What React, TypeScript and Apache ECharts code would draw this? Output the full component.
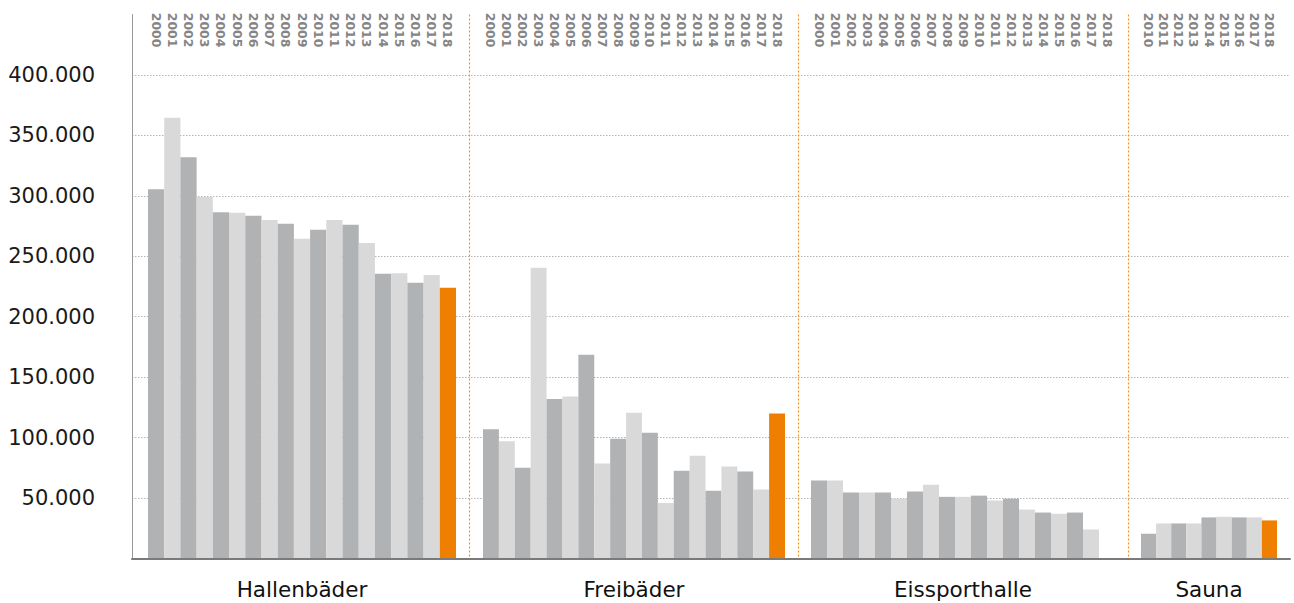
import React, { useEffect, useRef } from "react";
import * as echarts from "echarts";

// ---- data ----
const yearsFull = ["2000","2001","2002","2003","2004","2005","2006","2007","2008","2009","2010","2011","2012","2013","2014","2015","2016","2017","2018"];
const yearsSauna = ["2010","2011","2012","2013","2014","2015","2016","2017","2018"];
const groupNames = ["Hallenbäder", "Freibäder", "Eissporthalle", "Sauna"];

const hallenbaeder = [305500, 364500, 332000, 299000, 286500, 286000, 283500, 280000, 277000, 264500, 272000, 280000, 276000, 261000, 235500, 236000, 228000, 234500, 224000];
const freibaeder = [107000, 97000, 75000, 240500, 132000, 134000, 168500, 78500, 99000, 120500, 104000, 46000, 72500, 85000, 56000, 76000, 72000, 57000, 120000];
const eissporthalle = [64500, 64500, 54500, 54500, 54500, 49500, 55500, 61000, 51000, 51000, 52000, 48000, 49500, 40500, 38000, 37000, 38000, 24000, null];
const sauna = [20500, 29000, 29000, 29000, 34000, 34500, 34000, 34000, 31500];

const yMax = 450000;
const yInterval = 50000;

// ---- layout / style ----
const TOP = 14.5;
const BOTTOM = 44.5;
const groupLayout = [
  { left: 148, width: 308 },
  { left: 483, width: 302 },
  { left: 811, width: 304 },
  { left: 1141, width: 136 },
];
const dividerX = [469.5, 798.5, 1128.5];

const DARK = "#b1b2b3";
const LIGHT = "#d9d9d9";
const ORANGE = "#ef7f00";
const FONT = "DejaVu Sans";

const fmt = (v: number) => String(v).replace(/\B(?=(\d{3})+(?!\d))/g, ".");

export default function App() {
  const ref = useRef<HTMLDivElement>(null);

  useEffect(() => {
    if (!ref.current) return;
    const chart = echarts.init(ref.current, null, { renderer: "svg" });

    const groups = [
      { years: yearsFull, values: hallenbaeder },
      { years: yearsFull, values: freibaeder },
      { years: yearsFull, values: eissporthalle },
      { years: yearsSauna, values: sauna },
    ];

    const grids: any[] = [{ left: 132, right: 4, top: TOP, bottom: BOTTOM }];
    const xAxes: any[] = [
      {
        type: "value",
        gridIndex: 0,
        min: 0,
        max: 1,
        position: "bottom",
        z: 5,
        axisLine: { show: true, onZero: false, lineStyle: { color: "#7a7a7a", width: 2 } },
        axisTick: { show: false },
        axisLabel: { show: false },
        splitLine: { show: false },
      },
    ];
    const yAxes: any[] = [
      {
        type: "value",
        gridIndex: 0,
        min: 0,
        max: yMax,
        interval: yInterval,
        axisLine: { show: true, onZero: false, lineStyle: { color: "#999999", width: 1 } },
        axisTick: { show: false },
        axisLabel: {
          showMinLabel: false,
          showMaxLabel: false,
          margin: 37,
          fontFamily: FONT,
          fontSize: 21,
          color: "#1a1a1a",
          formatter: (v: number) => fmt(v),
        },
        splitLine: {
          show: true,
          showMinLine: false,
          showMaxLine: false,
          lineStyle: { color: "#b5b5b5", type: [1.5, 1.5], width: 1 },
        },
      },
    ];
    const series: any[] = [];

    groups.forEach((g, i) => {
      const gi = i + 1;
      grids.push({ left: groupLayout[i].left, width: groupLayout[i].width, top: TOP, bottom: BOTTOM });
      const topIdx = xAxes.length;
      xAxes.push({
        type: "category",
        gridIndex: gi,
        position: "top",
        offset: -35,
        data: g.years,
        axisLine: { show: false, onZero: false },
        axisTick: { show: false },
        splitLine: { show: false },
        axisLabel: {
          interval: 0,
          rotate: 90,
          margin: 2,
          fontFamily: FONT,
          fontSize: 12.5,
          fontWeight: "bold",
          color: "#858585",
        },
      });
      xAxes.push({
        type: "category",
        gridIndex: gi,
        position: "bottom",
        data: [groupNames[i]],
        axisLine: { show: false, onZero: false },
        axisTick: { show: false },
        splitLine: { show: false },
        axisLabel: {
          interval: 0,
          margin: 20,
          fontFamily: FONT,
          fontSize: 21.5,
          lineHeight: 22,
          color: "#111111",
        },
      });
      const yIdx = yAxes.length;
      yAxes.push({ type: "value", gridIndex: gi, min: 0, max: yMax, show: false });
      series.push({
        type: "bar",
        xAxisIndex: topIdx,
        yAxisIndex: yIdx,
        data: g.values,
        barCategoryGap: "0%",
        itemStyle: {
          color: (p: any) => {
            const yr = parseInt(g.years[p.dataIndex], 10);
            if (yr === 2018) return ORANGE;
            return yr % 2 === 0 ? DARK : LIGHT;
          },
        },
      });
    });

    const graphics = dividerX.map((x) => ({
      type: "line",
      silent: true,
      z: 10,
      shape: { x1: x, y1: TOP, x2: x, y2: 603 - BOTTOM },
      style: { stroke: "#f29424", lineWidth: 1.2, lineDash: [2, 2] },
    }));

    chart.setOption({
      animation: false,
      backgroundColor: "#ffffff",
      grid: grids,
      xAxis: xAxes,
      yAxis: yAxes,
      series,
      graphic: graphics,
    });

    return () => chart.dispose();
  }, []);

  return (
    <div style={{ position: "absolute", left: 0, top: 0 }}>
      <div ref={ref} style={{ width: 1294, height: 603 }} />
    </div>
  );
}
